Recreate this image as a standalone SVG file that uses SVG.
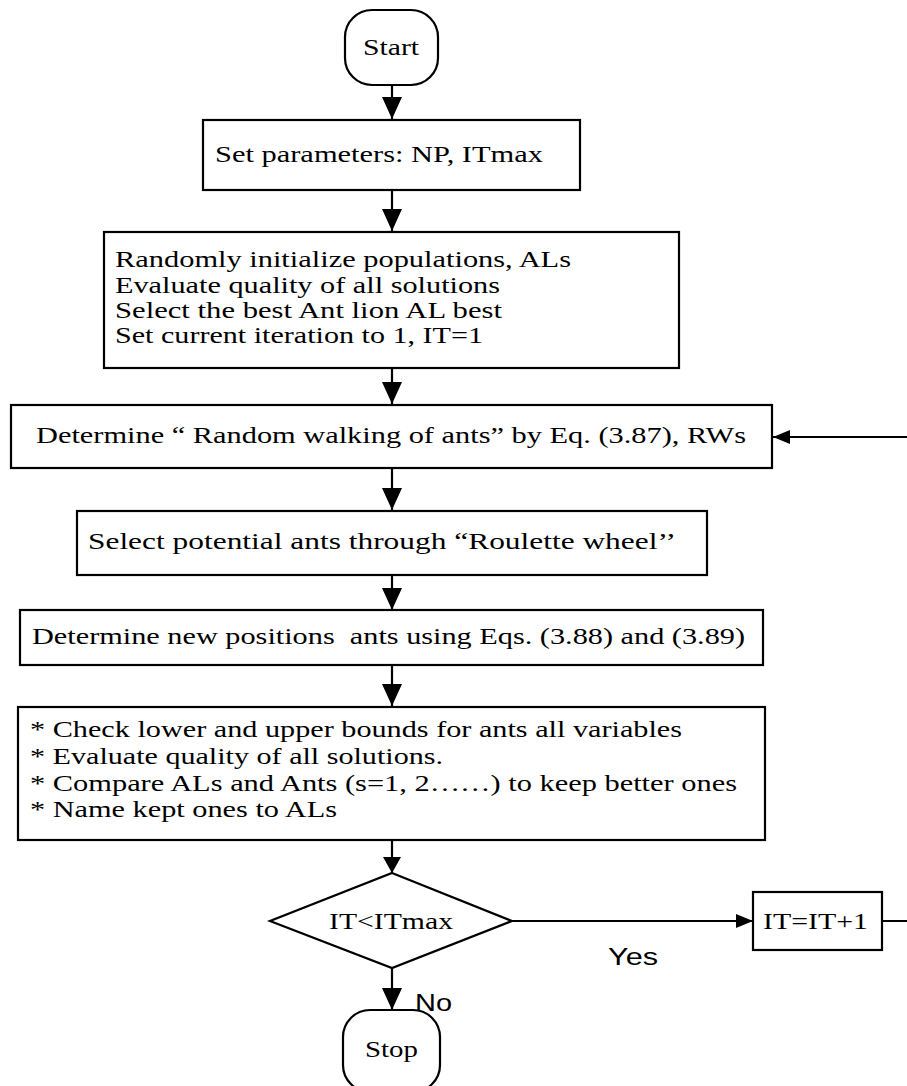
<svg xmlns="http://www.w3.org/2000/svg" width="907" height="1086" viewBox="0 0 907 1086">
  <style>
    .box { fill: #fff; stroke: #000; stroke-width: 2.2; }
    .t { font-family: "Liberation Serif", "Times New Roman", serif; font-size: 23.5px; fill: #000; white-space: pre; }
    .s { font-family: "Liberation Sans", Arial, sans-serif; font-size: 24px; fill: #000; }
    .c { fill: none; stroke: #000; stroke-width: 2.2; }
  </style>
  <defs>
    <marker id="arrowV" markerUnits="userSpaceOnUse" markerWidth="22" markerHeight="20" refX="22" refY="10" orient="auto">
      <path d="M0,0 L22,10 L0,20 Z" fill="#000"/>
    </marker>
    <marker id="arrowS" markerUnits="userSpaceOnUse" markerWidth="16" markerHeight="18" refX="16" refY="9" orient="auto">
      <path d="M0,0 L16,9 L0,18 Z" fill="#000"/>
    </marker>
    <marker id="arrowH" markerUnits="userSpaceOnUse" markerWidth="17" markerHeight="14" refX="17" refY="7" orient="auto">
      <path d="M0,0 L17,7 L0,14 Z" fill="#000"/>
    </marker>
  </defs>

  <rect width="907" height="1086" fill="#fff"/>

  <!-- connectors -->
  <g id="connectors">
    <line class="c" x1="392" y1="85" x2="392" y2="119" marker-end="url(#arrowV)"/>
    <line class="c" x1="392" y1="190" x2="392" y2="231" marker-end="url(#arrowV)"/>
    <line class="c" x1="392" y1="368" x2="392" y2="404" marker-end="url(#arrowV)"/>
    <line class="c" x1="392" y1="468" x2="392" y2="510" marker-end="url(#arrowV)"/>
    <line class="c" x1="392" y1="575" x2="392" y2="610" marker-end="url(#arrowV)"/>
    <line class="c" x1="392" y1="665" x2="392" y2="706" marker-end="url(#arrowV)"/>
    <line class="c" x1="392" y1="840" x2="392" y2="873" marker-end="url(#arrowS)"/>
    <line class="c" x1="392" y1="968" x2="392" y2="1010" marker-end="url(#arrowV)"/>
    <line class="c" x1="512" y1="921" x2="753" y2="921" marker-end="url(#arrowH)"/>
    <!-- loop back from the increment box to the random-walk step -->
    <path class="c" d="M882,921 H920 V437 H773" marker-end="url(#arrowH)"/>
  </g>

  <g id="start">
    <rect class="box" x="345" y="10" width="93" height="75" rx="27" ry="27"/>
    <text class="t" x="363" y="55" font-size="24" textLength="56" lengthAdjust="spacingAndGlyphs">Start</text>
  </g>

  <g id="set-parameters">
    <rect class="box" x="203" y="120" width="377" height="70"/>
    <text class="t" x="215" y="162" textLength="328" lengthAdjust="spacingAndGlyphs">Set parameters: NP, ITmax</text>
  </g>

  <g id="initialize">
    <rect class="box" x="104" y="232" width="575" height="136"/>
    <text class="t" x="115" y="267" textLength="456" lengthAdjust="spacingAndGlyphs">Randomly initialize populations, ALs</text>
    <text class="t" x="115" y="293" textLength="385" lengthAdjust="spacingAndGlyphs">Evaluate quality of all solutions</text>
    <text class="t" x="115" y="318" textLength="387" lengthAdjust="spacingAndGlyphs">Select the best Ant lion AL best</text>
    <text class="t" x="115" y="343" textLength="368" lengthAdjust="spacingAndGlyphs">Set current iteration to 1, IT=1</text>
  </g>

  <g id="random-walk">
    <rect class="box" x="11" y="405" width="761" height="63"/>
    <text class="t" x="36" y="443" textLength="710" lengthAdjust="spacingAndGlyphs">Determine “ Random walking of ants” by Eq. (3.87), RWs</text>
  </g>

  <g id="roulette">
    <rect class="box" x="77" y="511" width="630" height="64"/>
    <text class="t" x="88" y="549" textLength="588" lengthAdjust="spacingAndGlyphs">Select potential ants through “Roulette wheel’’</text>
  </g>

  <g id="new-positions">
    <rect class="box" x="20" y="610" width="743" height="55"/>
    <text class="t" x="32" y="644" textLength="713" lengthAdjust="spacingAndGlyphs">Determine new positions  ants using Eqs. (3.88) and (3.89)</text>
  </g>

  <g id="update">
    <rect class="box" x="18" y="707" width="747" height="133"/>
    <text class="t" x="30" y="737" textLength="652" lengthAdjust="spacingAndGlyphs">* Check lower and upper bounds for ants all variables</text>
    <text class="t" x="30" y="764" textLength="413" lengthAdjust="spacingAndGlyphs">* Evaluate quality of all solutions.</text>
    <text class="t" x="30" y="791" textLength="707" lengthAdjust="spacingAndGlyphs">* Compare ALs and Ants (s=1, 2……) to keep better ones</text>
    <text class="t" x="30" y="817" textLength="307" lengthAdjust="spacingAndGlyphs">* Name kept ones to ALs</text>
  </g>

  <g id="decision">
    <polygon class="box" points="392,873 512,921 392,968 270,921"/>
    <text class="t" x="329" y="929" font-size="24" textLength="124" lengthAdjust="spacingAndGlyphs">IT&lt;ITmax</text>
  </g>

  <g id="increment">
    <rect class="box" x="753" y="892" width="129" height="58"/>
    <text class="t" x="763" y="929" font-size="24" textLength="105" lengthAdjust="spacingAndGlyphs">IT=IT+1</text>
  </g>

  <g id="stop">
    <rect class="box" x="343" y="1010" width="97" height="82" rx="27" ry="27"/>
    <text class="t" x="365" y="1057" font-size="24" textLength="53" lengthAdjust="spacingAndGlyphs">Stop</text>
  </g>

  <g id="labels">
    <text class="s" x="608" y="965" font-size="25" textLength="50" lengthAdjust="spacingAndGlyphs">Yes</text>
    <text class="s" x="415" y="1011" textLength="37" lengthAdjust="spacingAndGlyphs">No</text>
  </g>
</svg>
